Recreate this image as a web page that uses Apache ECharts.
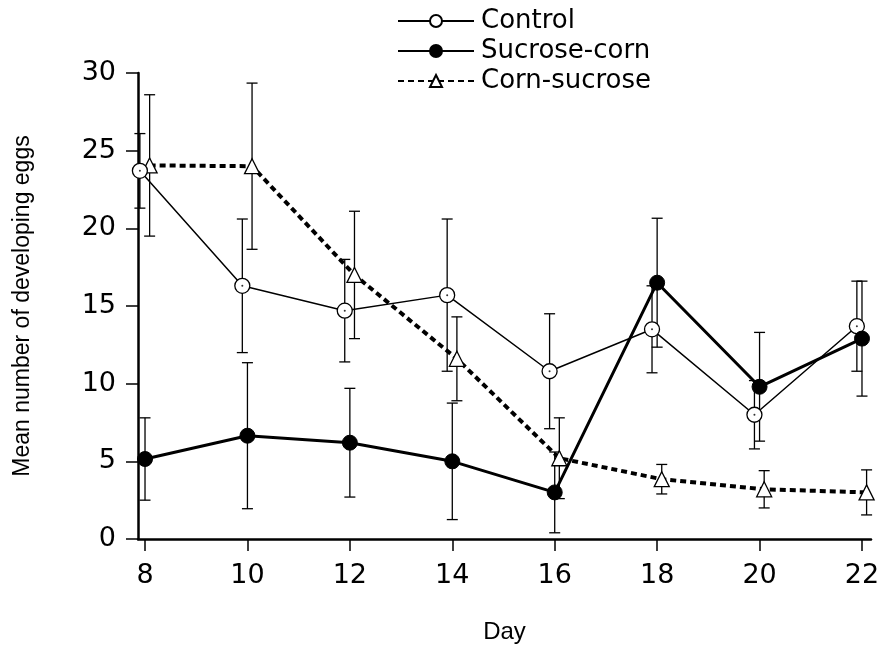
<!DOCTYPE html>
<html>
<head>
<meta charset="utf-8">
<script src="https://cdn.jsdelivr.net/npm/echarts@6/dist/echarts.min.js"></script>
<style>
html,body{margin:0;padding:0;background:#fff;}
#chart{width:889px;height:655px;}
</style>
</head>
<body>
<div id="chart"></div>
<script>
// ---- data ----
var days = [8, 10, 12, 14, 16, 18, 20, 22];
var xTicks = [8, 10, 12, 14, 16, 18, 20, 22];
var yTicks = [0, 5, 10, 15, 20, 25, 30];
var seriesNames = ['Control', 'Sucrose-corn', 'Corn-sucrose'];
var controlMean = [23.7, 16.3, 14.7, 15.7, 10.8, 13.5, 8.0, 13.7];
var controlErr  = [2.4, 4.3, 3.3, 4.9, 3.7, 2.8, 2.2, 2.9];
var sucroseCornMean = [5.15, 6.65, 6.2, 5.0, 3.0, 16.5, 9.8, 12.9];
var sucroseCornErr  = [2.65, 4.7, 3.5, 3.75, 2.6, 4.15, 3.5, 3.7];
var cornSucroseMean = [24.05, 24.0, 17.0, 11.6, 5.2, 3.85, 3.2, 3.0];
var cornSucroseErr  = [4.55, 5.35, 4.1, 2.7, 2.6, 0.95, 1.2, 1.45];

// ---- build ----
var FONT = 'DejaVu Sans';
var TITLE_FONT = 'Liberation Sans';
var dodge = [-0.1, 0, 0.09];
function pts(mean, k) { return days.map(function (d, i) { return [d + dodge[k], mean[i]]; }); }
function bars(mean, err, k) { return days.map(function (d, i) { return [d + dodge[k], mean[i] - err[i], mean[i] + err[i]]; }); }

function errRender(params, api) {
  var x = api.value(0), lo = api.value(1), hi = api.value(2);
  var a = api.coord([x, hi]), b = api.coord([x, lo]);
  var w = 5.5, st = { stroke: '#000', lineWidth: 1.3 };
  return { type: 'group', children: [
    { type: 'line', shape: { x1: a[0], y1: a[1], x2: b[0], y2: b[1] }, style: st },
    { type: 'line', shape: { x1: a[0] - w, y1: a[1], x2: a[0] + w, y2: a[1] }, style: st },
    { type: 'line', shape: { x1: b[0] - w, y1: b[1], x2: b[0] + w, y2: b[1] }, style: st }
  ]};
}
function errSeries(mean, err, k) {
  return { type: 'custom', renderItem: errRender, data: bars(mean, err, k), z: 1,
    encode: { x: 0, y: [1, 2] }, silent: true };
}

var chart = echarts.init(document.getElementById('chart'), null, { renderer: 'canvas' });
chart.setOption({
  animation: false,
  backgroundColor: '#fff',
  textStyle: { fontFamily: FONT, color: '#000' },
  grid: { left: 138, right: 18, top: 73, bottom: 116, containLabel: false },
  legend: {
    data: seriesNames,
    orient: 'vertical',
    left: 392, top: 3,
    itemWidth: 76, itemHeight: 15, itemGap: 4,
    textStyle: { fontFamily: FONT, fontSize: 26, color: '#000', padding: [0, 0, 0, 2] },
    selectedMode: false
  },
  xAxis: {
    type: 'value', min: 7.863, max: 22.176,
    name: 'Day', nameLocation: 'middle', nameGap: 81,
    nameTextStyle: { fontFamily: TITLE_FONT, fontSize: 24, color: '#000' },
    axisLine: { show: true, onZero: false, lineStyle: { color: '#000', width: 2.5 } },
    axisTick: { show: true, length: 12, inside: false, customValues: xTicks, lineStyle: { color: '#000', width: 1.5 } },
    axisLabel: { customValues: xTicks, margin: 23, fontFamily: FONT, fontSize: 27, color: '#000' },
    splitLine: { show: false }
  },
  yAxis: {
    type: 'value', min: 0, max: 30, interval: 5,
    name: 'Mean number of developing eggs', nameLocation: 'middle', nameGap: 104,
    nameTextStyle: { fontFamily: TITLE_FONT, fontSize: 23, color: '#000' },
    axisLine: { show: true, lineStyle: { color: '#000', width: 2.5 } },
    axisTick: { show: true, length: 12, inside: false, lineStyle: { color: '#000', width: 1.5 } },
    axisLabel: { margin: 22, fontFamily: FONT, fontSize: 27, color: '#000' },
    splitLine: { show: false }
  },
  series: [
    errSeries(controlMean, controlErr, 0),
    errSeries(sucroseCornMean, sucroseCornErr, 1),
    errSeries(cornSucroseMean, cornSucroseErr, 2),
    {
      name: seriesNames[0], type: 'line', data: pts(controlMean, 0), z: 3,
      symbol: 'circle', symbolSize: 15,
      lineStyle: { color: '#000', width: 1.5 },
      itemStyle: { color: '#fff', borderColor: '#000', borderWidth: 1.3 }
    },
    {
      name: 'ctrl-dot', type: 'scatter', data: pts(controlMean, 0), z: 5,
      symbol: 'circle', symbolSize: 2, itemStyle: { color: '#000' }, silent: true
    },
    {
      name: seriesNames[1], type: 'line', data: pts(sucroseCornMean, 1), z: 4,
      symbol: 'circle', symbolSize: 15,
      lineStyle: { color: '#000', width: 3 },
      itemStyle: { color: '#000', borderColor: '#000', borderWidth: 1 }
    },
    {
      name: seriesNames[2], type: 'line', data: pts(cornSucroseMean, 2), z: 2,
      symbol: 'triangle', symbolSize: 15,
      lineStyle: { color: '#000', width: 4, type: [6, 4] },
      itemStyle: { color: '#fff', borderColor: '#000', borderWidth: 1.3 }
    }
  ]
});
</script>
</body>
</html>
